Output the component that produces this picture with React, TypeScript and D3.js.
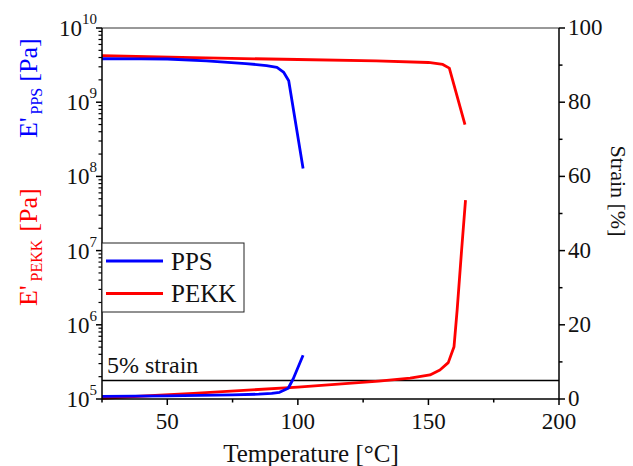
import React from "react";
import * as d3 from "d3";

const ppsTemp = [25, 40, 50, 65, 80, 88, 92, 94.5, 96.5, 102];
const ppsModulus = [3.85e9, 3.84e9, 3.82e9, 3.6e9, 3.32e9, 3.12e9, 2.95e9, 2.55e9, 1.95e9, 1.28e8];
const pekkTemp = [25, 60, 100, 130, 150, 155.5, 158, 164];
const pekkModulus = [4.23e9, 3.98e9, 3.76e9, 3.6e9, 3.43e9, 3.23e9, 2.88e9, 4.98e8];

const ppsStrainTemp = [25, 50, 75, 85, 90, 93, 96.3, 98.2, 102];
const ppsStrain = [0.7, 0.85, 1.1, 1.3, 1.5, 1.8, 2.9, 5.4, 11.8];
const pekkStrainTemp = [25, 60, 100, 131, 143, 150.6, 154.4, 157.6, 159.8, 161, 162.7, 164.2];
const pekkStrain = [0.2, 1.5, 3.2, 4.8, 5.6, 6.5, 7.8, 9.8, 14.1, 24, 40.1, 53.6];

const xMajor = [50, 100, 150, 200];
const xMinor = [25, 75, 125, 175];
const logExps = [5, 6, 7, 8, 9, 10];
const strainMajor = [0, 20, 40, 60, 80, 100];
const strainMinor = [10, 30, 50, 70, 90];
const strainThreshold = 5;

const legendItems = [
  { name: "PPS", color: "#0000ff" },
  { name: "PEKK", color: "#ff0000" },
];

const FONT = "Liberation Serif, Times New Roman, DejaVu Serif, serif";

export default function App() {
  const W = 633, H = 466;
  const left = 102, right = 559, top = 28, bottom = 399;
  const x = d3.scaleLinear().domain([25, 200]).range([left, right]);
  const yL = d3.scaleLog().domain([1e5, 1e10]).range([bottom, top]);
  const yR = d3.scaleLinear().domain([0, 100]).range([bottom, top]);

  const lineL = (ts: number[], vs: number[]) =>
    d3.line<number>().x((_, i) => x(ts[i])).y((v) => yL(v))(vs) || "";
  const lineR = (ts: number[], vs: number[]) =>
    d3.line<number>().x((_, i) => x(ts[i])).y((v) => yR(v))(vs) || "";

  const logMinor: number[] = [];
  for (let e = 5; e < 10; e++) for (let m = 2; m <= 9; m++) logMinor.push(m * Math.pow(10, e));

  const axisW = 1.5;
  const lw = 2.8;
  const ts = { fontFamily: FONT } as React.CSSProperties;

  return (
    <svg width={W} height={H} style={{ position: "absolute", left: 0, top: 0, background: "#fff", fontFamily: FONT }}>
      <rect x={0} y={0} width={W} height={H} fill="#fff" />
      {/* 5% strain line */}
      <line x1={left} x2={right} y1={yR(strainThreshold)} y2={yR(strainThreshold)} stroke="#000" strokeWidth={1.5} />
      <text style={ts} x={107} y={373} fontSize={24} fill="#111">5% strain</text>

      {/* curves */}
      <path d={lineR(pekkStrainTemp, pekkStrain)} fill="none" stroke="#ff0000" strokeWidth={lw} strokeLinejoin="round" />
      <path d={lineR(ppsStrainTemp, ppsStrain)} fill="none" stroke="#0000ff" strokeWidth={lw} strokeLinejoin="round" />
      <path d={lineL(pekkTemp, pekkModulus)} fill="none" stroke="#ff0000" strokeWidth={lw} strokeLinejoin="round" />
      <path d={lineL(ppsTemp, ppsModulus)} fill="none" stroke="#0000ff" strokeWidth={lw} strokeLinejoin="round" />

      {/* frame */}
      <line x1={left} x2={right} y1={top} y2={top} stroke="#333" strokeWidth={1} />
      <line x1={left} x2={left} y1={top} y2={bottom} stroke="#000" strokeWidth={axisW} />
      <line x1={right} x2={right} y1={top} y2={bottom} stroke="#000" strokeWidth={axisW} />
      <line x1={left} x2={right} y1={bottom} y2={bottom} stroke="#000" strokeWidth={axisW} />

      {/* bottom ticks */}
      {xMajor.map((t) => (
        <g key={"xm" + t}>
          <line x1={x(t)} x2={x(t)} y1={bottom} y2={bottom + 6} stroke="#000" strokeWidth={axisW} />
          <text style={ts} x={x(t)} y={429} fontSize={23} textAnchor="middle" fill="#111">{t}</text>
        </g>
      ))}
      {xMinor.map((t) => (
        <line key={"xn" + t} x1={x(t)} x2={x(t)} y1={bottom} y2={bottom + 3.5} stroke="#000" strokeWidth={axisW} />
      ))}
      <text style={ts} x={311} y={462} fontSize={25} textAnchor="middle" fill="#111">Temperature [°C]</text>

      {/* left log ticks */}
      {logExps.map((e) => {
        const yy = yL(Math.pow(10, e));
        return (
          <g key={"le" + e}>
            <line x1={left - 6} x2={left} y1={yy} y2={yy} stroke="#000" strokeWidth={axisW} />
            <text style={ts} x={97} y={yy + 8} fontSize={23} textAnchor="end" fill="#111">
              10<tspan fontSize={15} dy={-12}>{e}</tspan>
            </text>
          </g>
        );
      })}
      {logMinor.map((v) => (
        <line key={"lm" + v} x1={left - 3.5} x2={left} y1={yL(v)} y2={yL(v)} stroke="#000" strokeWidth={1.2} />
      ))}

      {/* right ticks */}
      {strainMajor.map((s) => (
        <g key={"rm" + s}>
          <line x1={right} x2={right + 6} y1={yR(s)} y2={yR(s)} stroke="#000" strokeWidth={axisW} />
          <text style={ts} x={568} y={yR(s) + 7} fontSize={23} fill="#111">{s}</text>
        </g>
      ))}
      {strainMinor.map((s) => (
        <line key={"rn" + s} x1={right} x2={right + 3.5} y1={yR(s)} y2={yR(s)} stroke="#000" strokeWidth={axisW} />
      ))}
      <text style={ts} transform="translate(611,191) rotate(90)" fontSize={22} textAnchor="middle" fill="#111">Strain [%]</text>

      {/* left axis title */}
      <text style={ts} transform="translate(37,306) rotate(-90)" fontSize={26} fill="#ff0000">
        E'<tspan fontSize={16} dy={5} dx={4}>PEKK</tspan><tspan dy={-5} dx={8}>[Pa]</tspan>
      </text>
      <text style={ts} transform="translate(37,138) rotate(-90)" fontSize={26} fill="#0000ff">
        E'<tspan fontSize={16} dy={5} dx={3}>PPS</tspan><tspan dy={-5} dx={6}>[Pa]</tspan>
      </text>

      {/* legend */}
      <rect x={left} y={243} width={142} height={69} fill="#fff" stroke="#222" strokeWidth={1} />
      {legendItems.map((it, i) => {
        const yy = 261 + i * 32.5;
        return (
          <g key={it.name}>
            <line x1={106} x2={163} y1={yy} y2={yy} stroke={it.color} strokeWidth={lw} />
            <text style={ts} x={171} y={yy + 8.5} fontSize={25} fill="#111">{it.name}</text>
          </g>
        );
      })}
    </svg>
  );
}
